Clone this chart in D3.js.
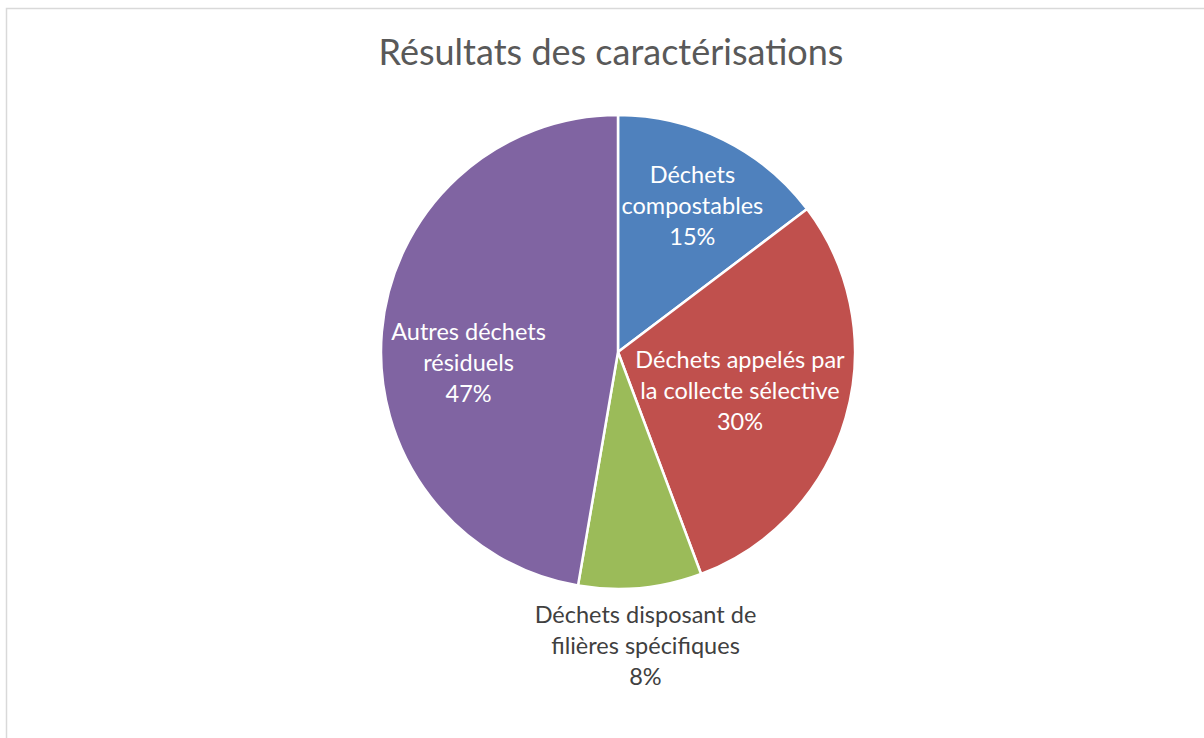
<!DOCTYPE html>
<html>
<head>
<meta charset="utf-8">
<script src="https://cdn.jsdelivr.net/npm/d3@7"></script>
<style>
  html, body { margin: 0; padding: 0; background: #fff; }
  svg { display: block; font-family: Lato, "Open Sans", sans-serif; }
</style>
</head>
<body>
<script>
// data (shares in %, shown rounded)
const categories = [
  ["Déchets", "compostables"],
  ["Déchets appelés par", "la collecte sélective"],
  ["Déchets disposant de", "filières spécifiques"],
  ["Autres déchets", "résiduels"]
];
const values = [14.7, 29.6, 8.4, 47.3];
const percentLabels = ["15%", "30%", "8%", "47%"];
const colors = ["#4F81BD", "#C0504D", "#9BBB59", "#8064A2"];

const width = 1204, height = 738;
const cx = 618, cy = 352, radius = 237;

// label placement: distance from centre, vertical nudge, inside/outside
const labelRadius = [167, 127, 292, 150];
const labelNudge = [3, 3, 3, 23];
const labelInside = [true, true, false, true];

const svg = d3.select('body').append('svg')
    .attr('width', width)
    .attr('height', height);

svg.append('rect')
    .attr('x', 6.5).attr('y', 8.5)
    .attr('width', width + 10).attr('height', height + 10)
    .attr('fill', '#fff')
    .attr('stroke', '#d9d9d9')
    .attr('stroke-width', 1.5);

svg.append('text')
    .attr('x', 611).attr('y', 65)
    .attr('text-anchor', 'middle')
    .attr('fill', '#595959')
    .style('font-size', '36px')
    .text('Résultats des caractérisations');

const pie = d3.pie().sort(null).value(d => d);
const arcs = pie(values);
const arc = d3.arc().innerRadius(0).outerRadius(radius);

const g = svg.append('g').attr('transform', `translate(${cx},${cy})`);

g.selectAll('path.slice')
    .data(arcs)
    .join('path')
    .attr('class', 'slice')
    .attr('d', arc)
    .attr('fill', (d, i) => colors[i])
    .attr('stroke', '#fff')
    .attr('stroke-width', 2.5)
    .attr('stroke-linejoin', 'round');

const fontSize = 23.5, lineH = 31;

arcs.forEach((d, i) => {
    const mid = (d.startAngle + d.endAngle) / 2;
    const x = labelRadius[i] * Math.sin(mid);
    const y = -labelRadius[i] * Math.cos(mid) + labelNudge[i];
    const lines = categories[i].concat([percentLabels[i]]);
    const t = g.append('text')
        .attr('text-anchor', 'middle')
        .attr('fill', labelInside[i] ? '#fff' : '#404040')
        .style('font-size', `${fontSize}px`);
    lines.forEach((l, j) => {
        t.append('tspan')
            .attr('x', x)
            .attr('y', y + (j - 1) * lineH)
            .attr('dy', '0.35em')
            .text(l);
    });
});
</script>
</body>
</html>
